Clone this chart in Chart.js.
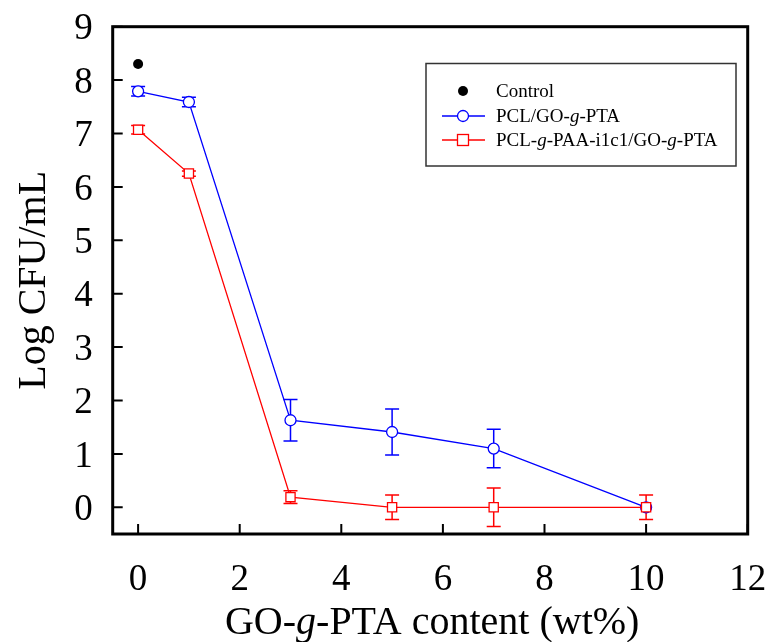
<!DOCTYPE html>
<html>
<head>
<meta charset="utf-8">
<script src="https://cdn.jsdelivr.net/npm/chart.js@4/dist/chart.umd.min.js"></script>
<style>
  html, body { margin: 0; padding: 0; background: #ffffff; }
  #wrap { width: 769px; height: 642px; }
</style>
</head>
<body>
<div id="wrap"><canvas id="c" width="769" height="642"></canvas></div>
<script>
// ---- data ----
const xValues = [0, 1, 3, 5, 7, 10];
const pclGoPta = [7.79, 7.59, 1.63, 1.41, 1.10, 0.0];
const pclGoPtaErr = [0.09, 0.09, 0.39, 0.43, 0.36, 0.0];
const pclPaaGoPta = [7.07, 6.25, 0.19, 0.0, 0.0, 0.0];
const pclPaaGoPtaErr = [0.08, 0.05, 0.12, 0.23, 0.36, 0.23];
const controlX = [0];
const controlY = [8.3];
const xTickValues = [0, 2, 4, 6, 8, 10, 12];
const yTickValues = [0, 1, 2, 3, 4, 5, 6, 7, 8, 9];
const seriesNames = ["Control", "PCL/GO-g-PTA", "PCL-g-PAA-i1c1/GO-g-PTA"];

const SERIF = '"Liberation Serif", "Times New Roman", Times, serif';
const BLUE = '#0000ff';
const RED = '#ff0000';

const toPts = (xs, ys) => xs.map((x, i) => ({ x: x, y: ys[i] }));

// rich text: segments of [text, italic]
function richSegments(str) {
  const parts = [];
  const re = /-g-/g;
  let last = 0, m;
  while ((m = re.exec(str)) !== null) {
    parts.push([str.slice(last, m.index + 1), false]);
    parts.push(['g', true]);
    last = m.index + 2;
  }
  parts.push([str.slice(last), false]);
  return parts;
}
function richWidth(ctx, segs, size) {
  let w = 0;
  for (const [t, it] of segs) {
    ctx.font = (it ? 'italic ' : '') + size + 'px ' + SERIF;
    w += ctx.measureText(t).width;
  }
  return w;
}
function drawRich(ctx, str, x, y, size, align) {
  const segs = richSegments(str);
  const w = richWidth(ctx, segs, size);
  let cx = align === 'center' ? x - w / 2 : x;
  ctx.textAlign = 'left';
  for (const [t, it] of segs) {
    ctx.font = (it ? 'italic ' : '') + size + 'px ' + SERIF;
    ctx.fillText(t, cx, y);
    cx += ctx.measureText(t).width;
  }
}

const decoPlugin = {
  id: 'deco',
  beforeDatasetsDraw(chart) {
    const ctx = chart.ctx;
    const xs = chart.scales.x, ys = chart.scales.y;
    const sets = [[pclGoPta, pclGoPtaErr, BLUE], [pclPaaGoPta, pclPaaGoPtaErr, RED]];
    ctx.save();
    for (const [vals, errs, col] of sets) {
      ctx.strokeStyle = col;
      ctx.lineWidth = 1.5;
      vals.forEach((v, i) => {
        const e = errs[i];
        if (!e) return;
        const px = xs.getPixelForValue(xValues[i]);
        const yT = ys.getPixelForValue(v + e);
        const yB = ys.getPixelForValue(v - e);
        ctx.beginPath();
        ctx.moveTo(px, yT); ctx.lineTo(px, yB);
        ctx.moveTo(px - 7, yT); ctx.lineTo(px + 7, yT);
        ctx.moveTo(px - 7, yB); ctx.lineTo(px + 7, yB);
        ctx.stroke();
      });
    }
    ctx.restore();
  },
  afterDatasetsDraw(chart) {
    const ctx = chart.ctx;
    const a = chart.chartArea;
    const xs = chart.scales.x, ys = chart.scales.y;
    ctx.save();
    ctx.strokeStyle = '#000';
    ctx.lineWidth = 2;
    ctx.beginPath();
    xTickValues.forEach(v => {
      const px = xs.getPixelForValue(v);
      ctx.moveTo(px, a.bottom); ctx.lineTo(px, a.bottom - 10);
    });
    yTickValues.forEach(v => {
      const py = ys.getPixelForValue(v);
      ctx.moveTo(a.left, py); ctx.lineTo(a.left + 10, py);
    });
    ctx.stroke();
    ctx.lineWidth = 3;
    ctx.strokeRect(a.left, a.top, a.right - a.left, a.bottom - a.top);
    ctx.restore();
  },
  afterDraw(chart) {
    const ctx = chart.ctx;
    const a = chart.chartArea;
    ctx.save();
    ctx.fillStyle = '#000';
    ctx.textBaseline = 'alphabetic';
    drawRich(ctx, 'GO-g-PTA content (wt%)', (a.left + a.right) / 2 + 2, 634, 40, 'center');
    ctx.save();
    ctx.translate(45, (a.top + a.bottom) / 2);
    ctx.rotate(-Math.PI / 2);
    drawRich(ctx, 'Log CFU/mL', 0, 0, 40, 'center');
    ctx.restore();

    // legend
    const lx = 426, ly = 63.5, lw = 310, lh = 102.5;
    ctx.strokeStyle = '#333';
    ctx.lineWidth = 1.5;
    ctx.strokeRect(lx, ly, lw, lh);
    const rows = [91, 116, 140];
    const symX = 463, lineL = 442, lineR = 485, textX = 496;
    ctx.textBaseline = 'middle';
    ctx.fillStyle = '#000';
    ctx.beginPath(); ctx.arc(symX, rows[0], 5, 0, Math.PI * 2); ctx.fill();
    ctx.strokeStyle = BLUE; ctx.lineWidth = 1.3;
    ctx.beginPath(); ctx.moveTo(lineL, rows[1]); ctx.lineTo(lineR, rows[1]); ctx.stroke();
    ctx.fillStyle = '#fff';
    ctx.beginPath(); ctx.arc(symX, rows[1], 5.5, 0, Math.PI * 2); ctx.fill(); ctx.stroke();
    ctx.strokeStyle = RED;
    ctx.beginPath(); ctx.moveTo(lineL, rows[2]); ctx.lineTo(lineR, rows[2]); ctx.stroke();
    ctx.fillRect(symX - 5.5, rows[2] - 5.5, 11, 11);
    ctx.strokeRect(symX - 5.5, rows[2] - 5.5, 11, 11);
    ctx.fillStyle = '#000';
    seriesNames.forEach((n, i) => drawRich(ctx, n, textX, rows[i] + 1, 19, 'left'));
    ctx.restore();
  }
};

new Chart(document.getElementById('c'), {
  type: 'line',
  data: {
    datasets: [
      {
        label: seriesNames[2],
        data: toPts(xValues, pclPaaGoPta),
        borderColor: RED, backgroundColor: '#fff',
        borderWidth: 1.3,
        pointStyle: 'rect', pointRadius: 6.5, pointBorderWidth: 1.3,
        pointBackgroundColor: '#fff', pointBorderColor: RED,
        order: 0
      },
      {
        label: seriesNames[1],
        data: toPts(xValues, pclGoPta),
        borderColor: BLUE, backgroundColor: '#fff',
        borderWidth: 1.3,
        pointStyle: 'circle', pointRadius: 5.5, pointBorderWidth: 1.3,
        pointBackgroundColor: '#fff', pointBorderColor: BLUE,
        order: 1
      },
      {
        label: seriesNames[0],
        data: toPts(controlX, controlY),
        showLine: false,
        pointStyle: 'circle', pointRadius: 5, pointBorderWidth: 0,
        pointBackgroundColor: '#000', pointBorderColor: '#000',
        order: 2
      }
    ]
  },
  options: {
    responsive: false,
    animation: false,
    events: [],
    layout: { padding: { top: 26.7, right: 21.3, left: 0, bottom: 0 } },
    plugins: { legend: { display: false }, tooltip: { enabled: false } },
    scales: {
      x: {
        type: 'linear', min: -0.5, max: 12,
        afterBuildTicks: s => { s.ticks = xTickValues.map(v => ({ value: v })); },
        afterFit: s => { s.height = 108; s.paddingLeft = 0; s.paddingRight = 0; },
        grid: { display: false, drawTicks: false },
        border: { display: false },
        ticks: { padding: 24, color: '#000', font: { family: SERIF, size: 37 }, maxRotation: 0 }
      },
      y: {
        type: 'linear', min: -0.5, max: 9,
        afterBuildTicks: s => { s.ticks = yTickValues.map(v => ({ value: v })); },
        afterFit: s => { s.width = 112.7; s.paddingTop = 0; s.paddingBottom = 0; },
        grid: { display: false, drawTicks: false },
        border: { display: false },
        ticks: { padding: 20, labelOffset: 3, color: '#000', font: { family: SERIF, size: 37 } }
      }
    }
  },
  plugins: [decoPlugin]
});
</script>
</body>
</html>
